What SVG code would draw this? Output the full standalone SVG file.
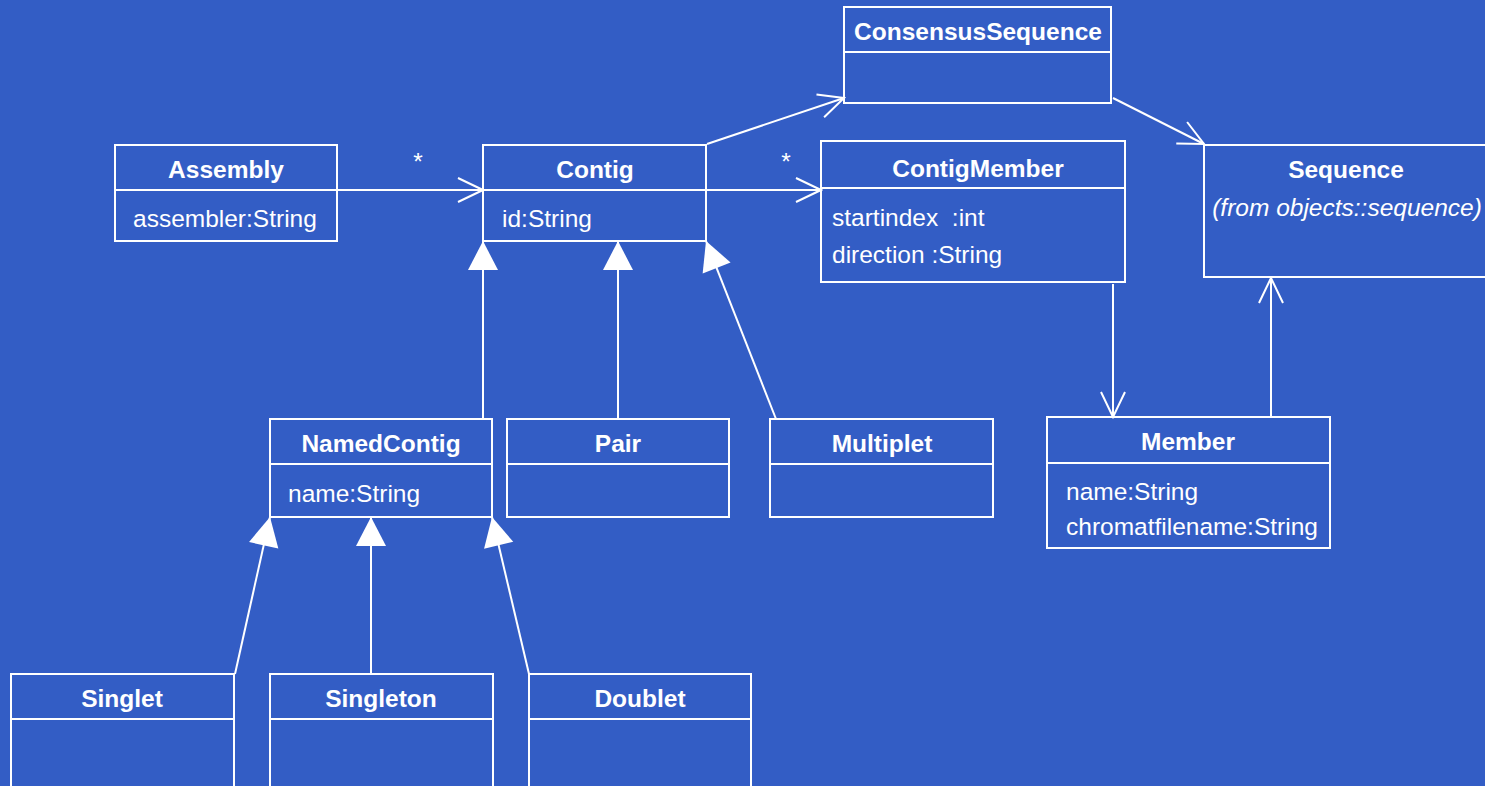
<svg xmlns="http://www.w3.org/2000/svg" width="1485" height="786" viewBox="0 0 1485 786">
<style>
.box{fill:none;stroke:#fff;stroke-width:2}
.t{font-family:"Liberation Sans",Arial,sans-serif;font-size:24.5px;fill:#fff;font-weight:bold;text-anchor:middle}
.a{font-family:"Liberation Sans",Arial,sans-serif;font-size:24.5px;fill:#fff}
.i{font-family:"Liberation Sans",Arial,sans-serif;font-size:24.5px;fill:#fff;font-style:italic;text-anchor:middle}
.c{fill:none;stroke:#fff;stroke-width:2}
.open{marker-end:url(#openArrow)}
.gen{marker-end:url(#triangle)}
</style>
<defs>
<marker id="openArrow" viewBox="-30 -16 32 32" refX="0" refY="0" markerWidth="32" markerHeight="32" markerUnits="userSpaceOnUse" orient="auto">
<path d="M-25,-12 L0,0 L-25,12" fill="none" stroke="#fff" stroke-width="2"/>
</marker>
<marker id="triangle" viewBox="-32 -17 34 34" refX="0" refY="0" markerWidth="34" markerHeight="34" markerUnits="userSpaceOnUse" orient="auto">
<path d="M0,0 L-29,-15 L-29,15 Z" fill="#fff"/>
</marker>
</defs>
<rect x="0" y="0" width="1485" height="786" fill="#335dc5"/>

<g id="connectors">
<line class="c open" x1="337" y1="190" x2="483" y2="190"/>
<line class="c open" x1="706" y1="190" x2="821" y2="190"/>
<line class="c open" x1="707" y1="144" x2="844" y2="98"/>
<line class="c open" x1="1113" y1="98" x2="1204" y2="144"/>
<line class="c open" x1="1113" y1="284" x2="1113" y2="417"/>
<line class="c open" x1="1271" y1="417" x2="1271" y2="278"/>
<line class="c gen" x1="483" y1="419" x2="483" y2="241"/>
<line class="c gen" x1="618" y1="419" x2="618" y2="241"/>
<line class="c gen" x1="776" y1="419" x2="706" y2="241"/>
<line class="c gen" x1="235" y1="674" x2="270" y2="517"/>
<line class="c gen" x1="371" y1="674" x2="371" y2="517"/>
<line class="c gen" x1="529" y1="674" x2="492" y2="517"/>
<text class="a" x="418" y="170" text-anchor="middle">*</text>
<text class="a" x="786" y="170" text-anchor="middle">*</text>
</g>

<g id="ConsensusSequence">
<rect class="box" x="844" y="7" width="267" height="96"/>
<line class="box" x1="844" y1="52" x2="1111" y2="52"/>
<text class="t" x="978" y="40">ConsensusSequence</text>
</g>

<g id="Assembly">
<rect class="box" x="115" y="145" width="222" height="96"/>
<line class="box" x1="115" y1="190" x2="337" y2="190"/>
<text class="t" x="226" y="178">Assembly</text>
<text class="a" x="133" y="227">assembler:String</text>
</g>

<g id="Contig">
<rect class="box" x="483" y="145" width="223" height="96"/>
<line class="box" x1="483" y1="190" x2="706" y2="190"/>
<text class="t" x="595" y="178">Contig</text>
<text class="a" x="502" y="227">id:String</text>
</g>

<g id="ContigMember">
<rect class="box" x="821" y="141" width="304" height="141"/>
<line class="box" x1="821" y1="188" x2="1125" y2="188"/>
<text class="t" x="978" y="177">ContigMember</text>
<text class="a" x="832" y="226" xml:space="preserve">startindex  :int</text>
<text class="a" x="832" y="263">direction :String</text>
</g>

<g id="Sequence">
<rect class="box" x="1204" y="145" width="290" height="132"/>
<text class="t" x="1346" y="178">Sequence</text>
<text class="i" x="1347" y="216">(from objects::sequence)</text>
</g>

<g id="NamedContig">
<rect class="box" x="270" y="419" width="222" height="98"/>
<line class="box" x1="270" y1="464" x2="492" y2="464"/>
<text class="t" x="381" y="452">NamedContig</text>
<text class="a" x="288" y="502">name:String</text>
</g>

<g id="Pair">
<rect class="box" x="507" y="419" width="222" height="98"/>
<line class="box" x1="507" y1="464" x2="729" y2="464"/>
<text class="t" x="618" y="452">Pair</text>
</g>

<g id="Multiplet">
<rect class="box" x="770" y="419" width="223" height="98"/>
<line class="box" x1="770" y1="464" x2="993" y2="464"/>
<text class="t" x="882" y="452">Multiplet</text>
</g>

<g id="Member">
<rect class="box" x="1047" y="417" width="283" height="131"/>
<line class="box" x1="1047" y1="463" x2="1330" y2="463"/>
<text class="t" x="1188" y="450">Member</text>
<text class="a" x="1066" y="500">name:String</text>
<text class="a" x="1066" y="535">chromatfilename:String</text>
</g>

<g id="Singlet">
<rect class="box" x="11" y="674" width="223" height="130"/>
<line class="box" x1="11" y1="719" x2="234" y2="719"/>
<text class="t" x="122" y="707">Singlet</text>
</g>

<g id="Singleton">
<rect class="box" x="270" y="674" width="223" height="130"/>
<line class="box" x1="270" y1="719" x2="493" y2="719"/>
<text class="t" x="381" y="707">Singleton</text>
</g>

<g id="Doublet">
<rect class="box" x="529" y="674" width="222" height="130"/>
<line class="box" x1="529" y1="719" x2="751" y2="719"/>
<text class="t" x="640" y="707">Doublet</text>
</g>
</svg>
